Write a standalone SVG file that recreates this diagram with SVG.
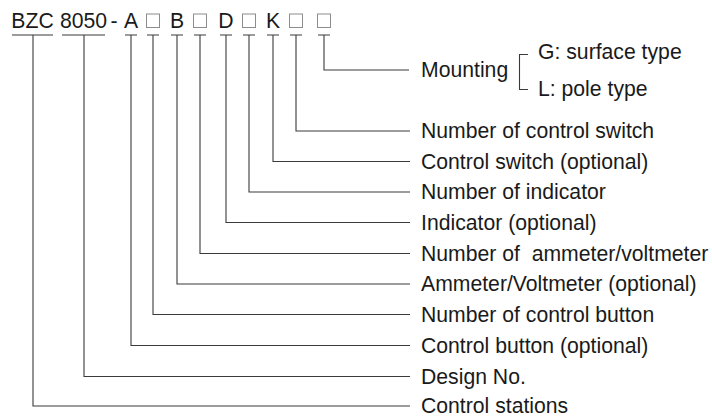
<svg xmlns="http://www.w3.org/2000/svg" width="712" height="418" viewBox="0 0 712 418">
<style>
  .t { font-family: "Liberation Sans", Arial, sans-serif; font-size: 21.2px; fill: #1a1a1a; }
  .h { font-family: "Liberation Sans", Arial, sans-serif; font-size: 21.2px; fill: #1a1a1a; text-anchor: middle; }
  .sq { fill: none; stroke: #8c8c8c; stroke-width: 1; }
  .ln { fill: none; stroke: #3a3a3a; stroke-width: 1.1; }
</style>
<rect width="712" height="418" fill="#ffffff"/>
<g id="code">
  <text class="h" x="32.5" y="28">BZC</text>
  <text class="h" x="83.5" y="28">8050</text>
  <text class="h" x="114" y="28">-</text>
  <text class="h" x="131" y="28">A</text>
  <rect class="sq" x="146.5" y="14" width="13" height="13.5"/>
  <text class="h" x="177" y="28">B</text>
  <rect class="sq" x="193.5" y="14" width="13" height="13.5"/>
  <text class="h" x="226" y="28">D</text>
  <rect class="sq" x="242.5" y="14" width="13" height="13.5"/>
  <text class="h" x="273" y="28">K</text>
  <rect class="sq" x="289.5" y="14" width="13" height="13.5"/>
  <rect class="sq" x="317.5" y="14" width="13" height="13.5"/>
</g>
<g id="connectors">
  <path class="ln" d="M12 35H53 M62 35H105 M125 35H137 M147 35H159 M171 35H183 M194 35H206 M220 35H232 M243 35H255 M267 35H279 M290 35H302 M318 35H330"/>
  <path class="ln" d="M324 35V70H409"/>
  <path class="ln" d="M296 35V131H410"/>
  <path class="ln" d="M273 35V161.5H410"/>
  <path class="ln" d="M249 35V192H410"/>
  <path class="ln" d="M226 35V222.5H410"/>
  <path class="ln" d="M200 35V253.5H410"/>
  <path class="ln" d="M177 35V284H410"/>
  <path class="ln" d="M153 35V314.5H410"/>
  <path class="ln" d="M131 35V345.5H410"/>
  <path class="ln" d="M84 35V376.5H410"/>
  <path class="ln" d="M33 35V406H410"/>
  <path class="ln" d="M528 54.5H519.5V89.5H528"/>
</g>
<g id="mounting">
  <text class="t" x="421" y="77">Mounting</text>
  <text class="t" x="538" y="59">G: surface type</text>
  <text class="t" x="538" y="96">L: pole type</text>
</g>
<g id="labels">
  <text class="t" x="421" y="138">Number of control switch</text>
  <text class="t" x="421" y="168.5">Control switch (optional)</text>
  <text class="t" x="421" y="199">Number of indicator</text>
  <text class="t" x="421" y="229.5">Indicator (optional)</text>
  <text class="t" x="421" y="260.5" style="white-space:pre">Number of  ammeter/voltmeter</text>
  <text class="t" x="421" y="291">Ammeter/Voltmeter (optional)</text>
  <text class="t" x="421" y="321.5">Number of control button</text>
  <text class="t" x="421" y="352.5">Control button (optional)</text>
  <text class="t" x="421" y="383.5">Design No.</text>
  <text class="t" x="421" y="413">Control stations</text>
</g>
</svg>
